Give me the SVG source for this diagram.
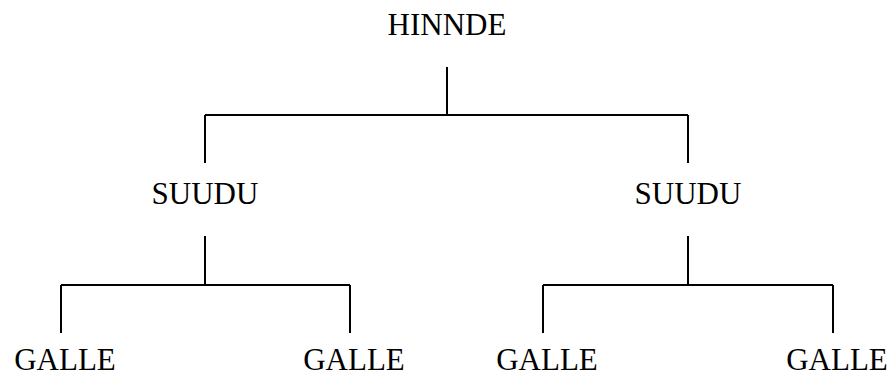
<svg xmlns="http://www.w3.org/2000/svg" width="891" height="376" viewBox="0 0 891 376">
<style>
text{font-family:"Liberation Serif","Times New Roman",serif;font-size:31px;fill:#000;text-anchor:middle}
.c{stroke:#000;stroke-width:2;fill:none}
</style>
<rect width="891" height="376" fill="#fff"/>
<g id="connectors">
<path class="c" d="M447 67V115M205 115H688M205 115V163M688 115V163"/>
<path class="c" d="M205 236V285M61 285H350M61 285V333M350 285V333"/>
<path class="c" d="M688 236V285M543 285H833M543 285V333M833 285V333"/>
</g>
<g id="n-hinnde"><text x="447" y="35">HINNDE</text></g>
<g id="n-suudu-1"><text x="205" y="204">SUUDU</text></g>
<g id="n-suudu-2"><text x="688" y="204">SUUDU</text></g>
<g id="n-galle-1"><text x="65" y="370">GALLE</text></g>
<g id="n-galle-2"><text x="354" y="370">GALLE</text></g>
<g id="n-galle-3"><text x="547" y="370">GALLE</text></g>
<g id="n-galle-4"><text x="837" y="370">GALLE</text></g>
</svg>
